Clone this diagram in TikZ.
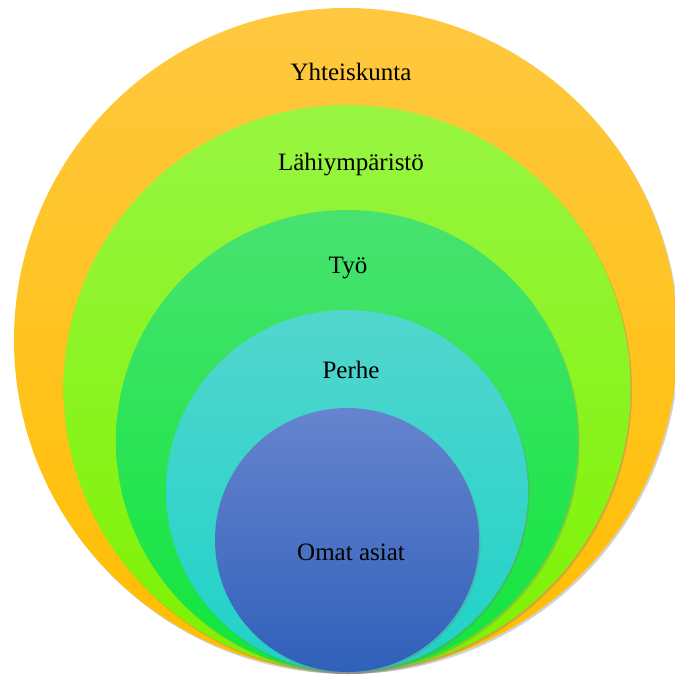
\documentclass[tikz,border=0pt]{standalone}
\usepackage{fontspec}
\setmainfont{Liberation Serif}
\usetikzlibrary{shadows}
\definecolor{oT}{RGB}{255,200,64}
\definecolor{oB}{RGB}{255,190,0}
\definecolor{lT}{RGB}{152,245,66}
\definecolor{lB}{RGB}{125,242,0}
\definecolor{gT}{RGB}{72,226,112}
\definecolor{gB}{RGB}{16,230,60}
\definecolor{cT}{RGB}{82,214,206}
\definecolor{cB}{RGB}{30,210,200}
\definecolor{bT}{RGB}{102,132,206}
\definecolor{bB}{RGB}{48,96,186}
\tikzset{
  ring/.style={circle, inner sep=0pt, minimum size=#1, drop shadow={shadow xshift=1.5pt, shadow yshift=-2pt, opacity=0.35}},
  lbl/.style={font=\fontsize{25}{28}\selectfont, text=black}
}
\begin{document}
\begin{tikzpicture}[x=1pt,y=-1pt]
\useasboundingbox (0,0) rectangle (674,679);
\node[ring=664pt, top color=oT, bottom color=oB] (c1) at (346,340) {};
\node[ring=567pt, top color=lT, bottom color=lB] (c2) at (347,388.5) {};
\node[ring=462pt, top color=gT, bottom color=gB] (c3) at (347,441) {};
\node[ring=362pt, top color=cT, bottom color=cB] (c4) at (347,491) {};
\node[ring=264pt, top color=bT, bottom color=bB] (c5) at (347,540) {};
\node[lbl] (t1) at (351,72) {Yhteiskunta};
\node[lbl] (t2) at (351,165) {Lähiympäristö};
\node[lbl] (t3) at (348,268) {Työ};
\node[lbl] (t4) at (351,370) {Perhe};
\node[lbl] (t5) at (351,552) {Omat asiat};
\end{tikzpicture}
\end{document}
